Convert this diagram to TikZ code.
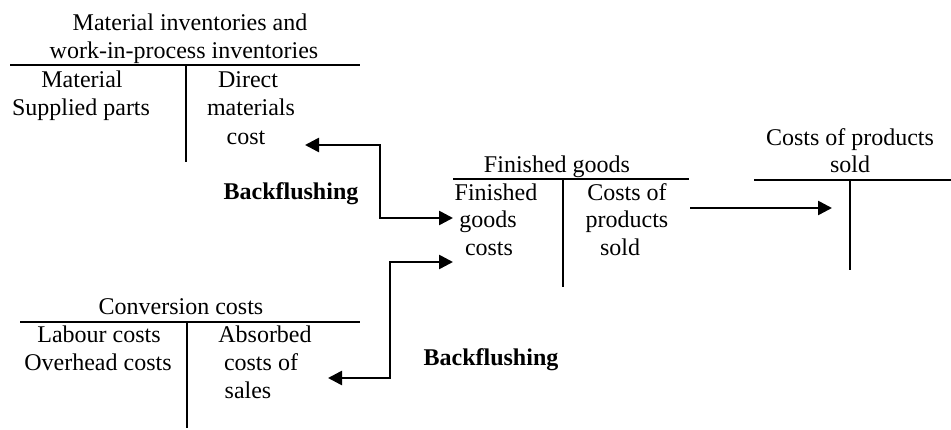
\documentclass[tikz,border=0pt]{standalone}
\usepackage{fontspec}
\setmainfont{Liberation Serif}
\usetikzlibrary{arrows.meta}
\begin{document}
\begin{tikzpicture}[x=1pt,y=-1pt,
  txt/.style={anchor=base,inner sep=0pt,font=\fontsize{24}{28}\selectfont},
  boldtxt/.style={anchor=base,inner sep=0pt,font=\fontsize{24}{28}\selectfont\bfseries},
  tline/.style={line width=1.8pt},
  tip/.style={Triangle[length=14pt,width=14pt]},
  flow/.style={line width=2.6pt,-{Triangle[length=14pt,width=14pt]}},
  flowboth/.style={line width=2.6pt,{Triangle[length=14pt,width=14pt]}-{Triangle[length=14pt,width=14pt]}}]
\useasboundingbox (0,0) rectangle (951,430);

% ---- T-account 1: Material inventories and work-in-process inventories
\node[txt] (t1a) at (190,31) {Material inventories and};
\node[txt] (t1b) at (184,59) {work-in-process inventories};
\coordinate (h1l) at (10,65);
\coordinate (h1r) at (360,65);
\coordinate (v1t) at (186,65);
\coordinate (v1b) at (186,162);
\draw[tline] (h1l) -- (h1r);
\draw[tline] (v1t) -- (v1b);
\node[txt] (l1a) at (82,88) {Material};
\node[txt] (l1b) at (81,116) {Supplied parts};
\node[txt] (r1a) at (248,88) {Direct};
\node[txt] (r1b) at (251,116) {materials};
\node[txt] (r1c) at (246,145) {cost};

% ---- T-account 2: Finished goods
\node[txt] (t2) at (557,173) {Finished goods};
\coordinate (h2l) at (453,179);
\coordinate (h2r) at (689,179);
\coordinate (v2t) at (563,179);
\coordinate (v2b) at (563,287);
\draw[tline] (h2l) -- (h2r);
\draw[tline] (v2t) -- (v2b);
\node[txt] (l2a) at (496,201) {Finished};
\node[txt] (l2b) at (488,228) {goods};
\node[txt] (l2c) at (489,256) {costs};
\node[txt] (r2a) at (627,201) {Costs of};
\node[txt] (r2b) at (627,228) {products};
\node[txt] (r2c) at (620,256) {sold};

% ---- T-account 3: Conversion costs
\node[txt] (t3) at (181,315) {Conversion costs};
\coordinate (h3l) at (20,322);
\coordinate (h3r) at (360,322);
\coordinate (v3t) at (187,322);
\coordinate (v3b) at (187,428);
\draw[tline] (h3l) -- (h3r);
\draw[tline] (v3t) -- (v3b);
\node[txt] (l3a) at (99,343) {Labour costs};
\node[txt] (l3b) at (98,371) {Overhead costs};
\node[txt] (r3a) at (265,343) {Absorbed};
\node[txt] (r3b) at (261,371) {costs of};
\node[txt] (r3c) at (248,399) {sales};

% ---- T-account 4: Costs of products sold
\node[txt] (t4a) at (850,146) {Costs of products};
\node[txt] (t4b) at (850,173) {sold};
\coordinate (h4l) at (754,180);
\coordinate (h4r) at (951,180);
\coordinate (v4t) at (850,180);
\coordinate (v4b) at (850,270);
\draw[tline] (h4l) -- (h4r);
\draw[tline] (v4t) -- (v4b);

% ---- Backflushing labels
\node[boldtxt] (bf1) at (291,200) {Backflushing};
\node[boldtxt] (bf2) at (491,366) {Backflushing};

% ---- Connectors
\coordinate (a1s) at (305,145);
\coordinate (a1e) at (453,218);
\draw[flowboth] (a1s) -| (380,181) |- (a1e);

\coordinate (a2s) at (328,378);
\coordinate (a2e) at (453,262);
\draw[flowboth] (a2s) -| (390,320) |- (a2e);

\coordinate (a3s) at (690,208);
\coordinate (a3e) at (832,208);
\draw[flow] (a3s) -- (a3e);
\end{tikzpicture}
\end{document}
